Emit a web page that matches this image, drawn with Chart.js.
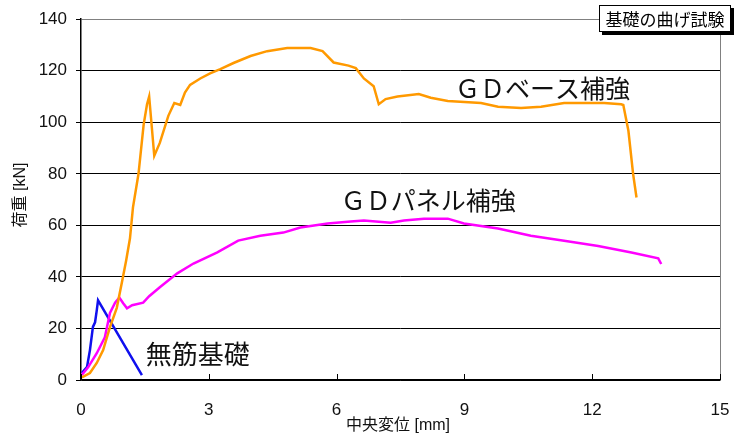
<!DOCTYPE html>
<html lang="ja">
<head>
<meta charset="UTF-8">
<title>基礎の曲げ試験</title>
<script src="https://cdn.jsdelivr.net/npm/chart.js"></script>
<style>
  body { margin: 0; background: #fff; }
  #wrap { width: 745px; height: 435px; }
</style>
</head>
<body>
<div id="wrap"><canvas id="myChart"></canvas></div>
<script>
// GDベース補強 (orange)
const baseX = [0.02, 0.21, 0.37, 0.52, 0.68, 0.84, 0.97, 1.06, 1.15, 1.22, 1.35, 1.47, 1.55, 1.6, 1.72, 1.85, 2.05, 2.19, 2.33, 2.44, 2.56, 2.8, 3.03, 3.27, 3.58, 3.98, 4.37, 4.84, 5.39, 5.67, 5.93, 6.28, 6.45, 6.64, 6.87, 6.99, 7.15, 7.43, 7.93, 8.21, 8.61, 9.39, 9.79, 10.33, 10.8, 11.34, 11.81, 12.28, 12.68, 12.73, 12.85, 12.96, 13.04];
const baseY = [1, 2.7, 6.6, 11.6, 20.5, 28, 38.7, 46.4, 55, 67, 80, 99, 107, 110, 87, 92, 102.5, 107.5, 106.7, 111.5, 114.5, 117, 119, 120.6, 123, 125.7, 127.6, 128.8, 128.8, 127.6, 123.2, 122, 121, 117, 114, 107, 109, 110, 111, 109.5, 108.3, 107.5, 106, 105.5, 106, 107.5, 107.5, 107.5, 107, 106.7, 96.7, 80, 70.8];

// GDパネル補強 (magenta)
const panelX = [0.02, 0.17, 0.37, 0.56, 0.68, 0.8, 0.9, 0.99, 1.08, 1.2, 1.46, 1.6, 1.85, 2.26, 2.64, 3.2, 3.69, 4.21, 4.75, 5.15, 5.79, 6.33, 6.64, 7.27, 7.58, 8.05, 8.61, 8.99, 9.79, 10.56, 11.34, 12.14, 12.92, 13.55, 13.62];
const panelY = [2, 5, 10.4, 16.6, 26, 30, 32, 29.8, 27.8, 29, 30, 32.5, 36, 41.4, 45.2, 49.5, 54.1, 56, 57.2, 59.2, 60.7, 61.5, 61.9, 61, 61.9, 62.6, 62.6, 60.7, 58.8, 56, 54, 52, 49.5, 47.2, 45];

// 無筋基礎 (blue)
const plainX = [0.02, 0.14, 0.21, 0.28, 0.33, 0.37, 0.4, 1.43];
const plainY = [2.7, 5, 11.6, 20.6, 22.4, 27, 30.9, 1.9];

const seriesNames = ['ＧＤベース補強', 'ＧＤパネル補強', '無筋基礎'];
const xTitle = '中央変位 [mm]';
const yTitle = '荷重 [kN]';
const chartTitle = '基礎の曲げ試験';

const fontLatin = "'Liberation Sans', 'Noto Sans CJK JP', sans-serif";
const fontJP = "'Noto Sans CJK JP', sans-serif";

function pts(xs, ys) {
  return xs.map((x, i) => ({ x: x, y: ys[i] }));
}

const extras = {
  id: 'extras',
  afterDraw(chart) {
    const ctx = chart.ctx;
    const a = chart.chartArea;
    const xs = chart.scales.x;
    const ys = chart.scales.y;
    ctx.save();

    // right frame
    ctx.strokeStyle = '#808080';
    ctx.lineWidth = 1;
    ctx.beginPath();
    ctx.moveTo(a.right + 0.5, a.top);
    ctx.lineTo(a.right + 0.5, a.bottom);
    ctx.stroke();

    // inside x ticks
    ctx.strokeStyle = '#000';
    ctx.beginPath();
    xs.ticks.forEach(t => {
      const px = Math.round(xs.getPixelForValue(t.value)) + 0.5;
      ctx.moveTo(px, a.bottom);
      ctx.lineTo(px, a.bottom - 6);
    });
    ctx.stroke();

    // series labels
    ctx.fillStyle = '#111';
    ctx.textBaseline = 'middle';
    ctx.textAlign = 'left';
    ctx.font = '25px ' + fontJP;
    ctx.fillText(seriesNames[0], xs.getPixelForValue(8.78), ys.getPixelForValue(113));
    ctx.fillText(seriesNames[1], xs.getPixelForValue(6.1), ys.getPixelForValue(69.5));
    ctx.font = '26px ' + fontJP;
    ctx.fillText(seriesNames[2], xs.getPixelForValue(1.52), ys.getPixelForValue(10));

    // axis titles
    ctx.font = '16px ' + fontLatin;
    ctx.textAlign = 'center';
    ctx.fillText(xTitle, 398, 426);
    ctx.save();
    ctx.translate(21, 195);
    ctx.rotate(-Math.PI / 2);
    ctx.fillText(yTitle, 0, 0);
    ctx.restore();

    // title box with shadow
    const bx = 599, by = 5, bw = 132, bh = 27;
    ctx.fillStyle = '#000';
    ctx.fillRect(bx + 3, by + 3, bw, bh);
    ctx.fillStyle = '#fff';
    ctx.fillRect(bx, by, bw, bh);
    ctx.strokeStyle = '#000';
    ctx.lineWidth = 1;
    ctx.strokeRect(bx + 0.5, by + 0.5, bw - 1, bh - 1);
    ctx.fillStyle = '#000';
    ctx.font = '17px ' + fontJP;
    ctx.textAlign = 'center';
    ctx.fillText(chartTitle, bx + bw / 2, by + bh / 2 + 1);

    ctx.restore();
  }
};

const ctx = document.getElementById('myChart').getContext('2d');
const myChart = new Chart(ctx, {
  type: 'scatter',
  data: {
    datasets: [
      { label: seriesNames[0], data: pts(baseX, baseY), borderColor: '#ff9900', backgroundColor: '#ff9900' },
      { label: seriesNames[1], data: pts(panelX, panelY), borderColor: '#ff00ff', backgroundColor: '#ff00ff' },
      { label: seriesNames[2], data: pts(plainX, plainY), borderColor: '#1010ee', backgroundColor: '#1010ee' }
    ]
  },
  options: {
    responsive: true,
    maintainAspectRatio: false,
    animation: false,
    showLine: true,
    elements: {
      point: { radius: 0, hoverRadius: 0 },
      line: { borderWidth: 2.5, tension: 0 }
    },
    layout: { padding: { top: 18, right: 25, left: 0, bottom: 0 } },
    plugins: { legend: { display: false }, tooltip: { enabled: false } },
    scales: {
      x: {
        type: 'linear',
        min: 0, max: 15,
        ticks: { stepSize: 3, padding: 12, color: '#111', font: { size: 17, family: fontLatin } },
        grid: { display: false },
        border: { display: true, color: '#000', width: 1.5 },
        afterFit(scale) { scale.height = 55; }
      },
      y: {
        min: 0, max: 140,
        ticks: { stepSize: 20, padding: 9, color: '#111', font: { size: 17, family: fontLatin } },
        grid: {
          color: c => (c.tick && c.tick.value === 140 ? '#808080' : '#000'),
          lineWidth: 1,
          drawTicks: true,
          tickLength: 5,
          tickColor: '#000'
        },
        border: { display: true, color: '#000', width: 1.5 },
        afterFit(scale) { scale.width = 81; }
      }
    }
  },
  plugins: [extras]
});
</script>
</body>
</html>
